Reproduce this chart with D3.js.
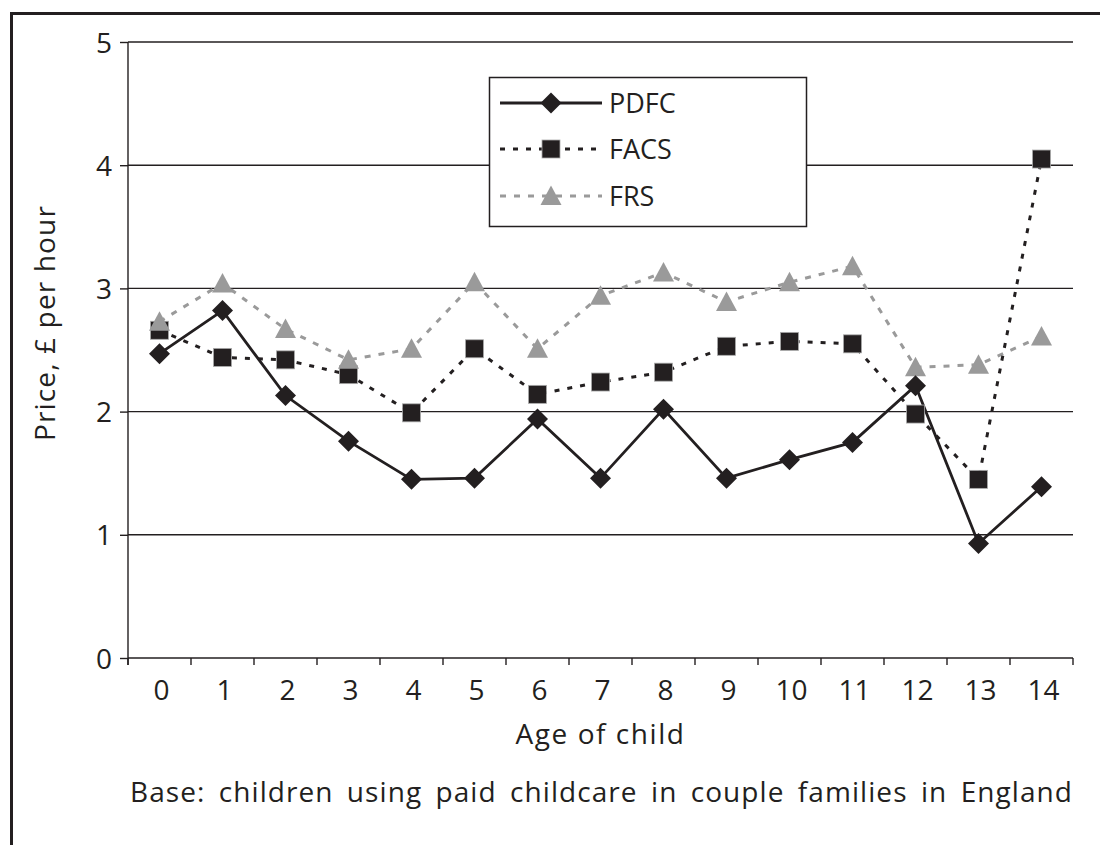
<!DOCTYPE html>
<html><head><meta charset="utf-8">
<script src="https://cdn.jsdelivr.net/npm/d3@7"></script>
<style>
html,body{margin:0;padding:0;background:#fff;}
svg{display:block;font-family:"Open Sans",sans-serif;}
</style></head>
<body><svg id="c" width="1100" height="845"></svg>
<script>
const ages = ["0","1","2","3","4","5","6","7","8","9","10","11","12","13","14"];
const pdfc = [2.47, 2.82, 2.13, 1.76, 1.45, 1.46, 1.94, 1.46, 2.02, 1.46, 1.61, 1.75, 2.21, 0.93, 1.39];
const facs = [2.66, 2.44, 2.42, 2.30, 1.99, 2.51, 2.14, 2.24, 2.32, 2.53, 2.57, 2.55, 1.98, 1.45, 4.05];
const frs  = [2.73, 3.04, 2.67, 2.42, 2.51, 3.05, 2.51, 2.94, 3.13, 2.89, 3.05, 3.18, 2.36, 2.38, 2.61];
const yTicks = [0,1,2,3,4,5];
const seriesNames = ["PDFC","FACS","FRS"];
const yTitle = "Price, £ per hour";
const xTitle = "Age of child";
const note = "Base: children using paid childcare in couple families in England";

const svg = d3.select("#c");
const ink = "#231f20";
const grey = "#9a9a9a";
const L=128, R=1073, T=42, B=658;
const x = d3.scaleBand().domain(ages).range([L,R]).padding(0);
const y = d3.scaleLinear().domain([0,5]).range([B,T]);

function fitSpacing(sel, target, wordSp){
  sel.attr("word-spacing", wordSp||0).attr("letter-spacing",0);
  const len = sel.node().getComputedTextLength();
  const n = sel.text().length;
  sel.attr("letter-spacing", (target-len)/n);
}

// outer frame (clipped at right/bottom)
svg.append("rect").attr("x",11.5).attr("y",13.5).attr("width",1200).attr("height",1000)
  .attr("fill","none").attr("stroke",ink).attr("stroke-width",3);

// gridlines
svg.append("g").selectAll("line").data(yTicks.filter(d=>d>0)).join("line")
  .attr("x1",L).attr("x2",R).attr("y1",d=>y(d)).attr("y2",d=>y(d))
  .attr("stroke",ink).attr("stroke-width",1.4);

// y axis
const ya = svg.append("g").attr("transform",`translate(${L},0)`)
  .call(d3.axisLeft(y).tickValues(yTicks).tickSize(8).tickPadding(8).tickFormat(d3.format("d")));
ya.select(".domain").attr("stroke",ink).attr("stroke-width",1.4).attr("d",`M0,${T}V${B+7}`);
ya.selectAll(".tick line").attr("stroke",ink).attr("stroke-width",1.4);
ya.selectAll(".tick text").attr("font-size",28).attr("font-family","Open Sans").attr("fill",ink).attr("dy","0.36em");

// x axis
const xa = svg.append("g").attr("transform",`translate(0,${B})`)
  .call(d3.axisBottom(x).tickSize(0).tickPadding(22));
xa.select(".domain").attr("stroke",ink).attr("stroke-width",1.4).attr("d",`M${L},0H${R}`);
xa.selectAll(".tick text").attr("font-size",28).attr("font-family","Open Sans").attr("fill",ink).attr("dy","0.71em")
  .attr("dx",2);
const edges = ages.map(a=>x(a)).concat([x(ages[ages.length-1])+x.bandwidth()]);
xa.append("g").selectAll("line").data(edges).join("line")
  .attr("x1",d=>d).attr("x2",d=>d).attr("y1",0).attr("y2",7)
  .attr("stroke",ink).attr("stroke-width",1.4);

// titles
const yt = svg.append("text").attr("transform",`translate(55,323) rotate(-90)`)
  .attr("text-anchor","middle").attr("font-size",28).attr("fill",ink).text(yTitle);
fitSpacing(yt, 236);
const xt = svg.append("text").attr("x",(L+R)/2).attr("y",744)
  .attr("text-anchor","middle").attr("font-size",28).attr("fill",ink).text(xTitle);
fitSpacing(xt, 170);
const nt = svg.append("text").attr("x",130).attr("y",802).attr("font-size",28).attr("fill",ink).text(note);
fitSpacing(nt, R-130, 5);

// lines
const cx = i => x(ages[i]) + x.bandwidth()/2;
const line = d3.line().x((d,i)=>cx(i)).y(d=>y(d));
const styles = [
  {data:pdfc, stroke:ink, dash:null, w:2.8},
  {data:facs, stroke:ink, dash:"5,8", w:3},
  {data:frs, stroke:grey, dash:"6,8", w:3}
];
[2,1,0].forEach(k=>{
  const s=styles[k];
  svg.append("path").attr("d",line(s.data)).attr("fill","none")
    .attr("stroke",s.stroke).attr("stroke-width",s.w).attr("stroke-dasharray",s.dash);
});

// markers
function drawSquare(g,cxv,cyv){ g.append("rect").attr("x",cxv-9).attr("y",cyv-9).attr("width",18).attr("height",18)
  .attr("fill",ink).attr("stroke","#aaa").attr("stroke-width",0.8);}
function drawTri(g,cxv,cyv){ g.append("path").attr("d",`M${cxv},${cyv-10.5}L${cxv+10.5},${cyv+9}L${cxv-10.5},${cyv+9}Z`).attr("fill",grey);}
function drawDia(g,cxv,cyv){ g.append("path").attr("d",`M${cxv},${cyv-10.5}L${cxv+10.5},${cyv}L${cxv},${cyv+10.5}L${cxv-10.5},${cyv}Z`).attr("fill",ink);}
const mg = svg.append("g");
facs.forEach((v,i)=>drawSquare(mg,cx(i),y(v)));
frs.forEach((v,i)=>drawTri(mg,cx(i),y(v)));
pdfc.forEach((v,i)=>drawDia(mg,cx(i),y(v)));

// legend
const lg = svg.append("g");
lg.append("rect").attr("x",489.5).attr("y",77.5).attr("width",317).attr("height",149)
  .attr("fill","#fff").attr("stroke",ink).attr("stroke-width",1.5);
const rowsY = [103,149,196];
const drawers=[drawDia,drawSquare,drawTri];
seriesNames.forEach((n,k)=>{
  const s=styles[k], yy=rowsY[k];
  lg.append("line").attr("x1",500).attr("x2",602).attr("y1",yy).attr("y2",yy)
    .attr("stroke",s.stroke).attr("stroke-width",s.w).attr("stroke-dasharray",s.dash);
  drawers[k](lg,551,yy);
  lg.append("text").attr("x",609).attr("y",yy+10).attr("font-size",27).attr("fill",ink).text(n);
});
</script></body></html>
